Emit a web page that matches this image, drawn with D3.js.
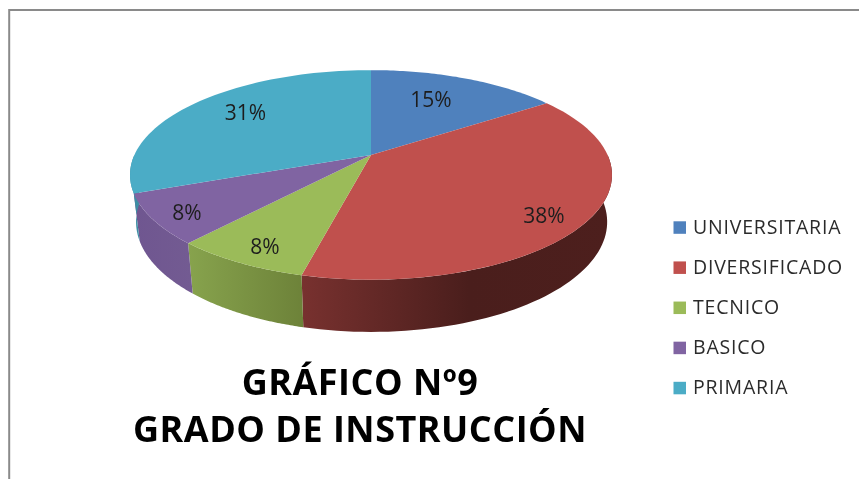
<!DOCTYPE html>
<html><head><meta charset="utf-8">
<style>html,body{margin:0;padding:0;background:#fff}svg{display:block}</style>
<script src="https://cdn.jsdelivr.net/npm/d3@7"></script></head>
<body><svg id="c" width="859" height="479"></svg>
<script>
const categories = ["UNIVERSITARIA","DIVERSIFICADO","TECNICO","BASICO","PRIMARIA"];
const values = [2,5,1,1,4];
const percentLabels = ["15%","38%","8%","8%","31%"];
const topColors = ["#4f81bd","#c0504d","#9bbb59","#8064a2","#4bacc6"];
const wallColors = [
  [[0,"#3c618f"],[1,"#3c618f"]],
  [[0,"#78312f"],[0.54,"#4a1e1c"],[1,"#4d1f1d"]],
  [[0,"#87a34d"],[1,"#6d8239"]],
  [[0,"#6f5690"],[1,"#735b92"]],
  [[0,"#3d8ea4"],[1,"#3d8ea4"]]
];
const titleLines = ["GRÁFICO Nº9","GRADO DE INSTRUCCIÓN"];
const titleBaselines = [395, 442];
const labelPositions = [[431,99],[544,215],[265,246],[187,212.5],[245.5,112.5]];

const svg = d3.select("#c");
const cx = 371, cy = 155, A = 236.6, B = 101, p = 0.19;
// perspective projection of the unit disc
const proj = t => {
  const u = Math.sin(t), v = -Math.cos(t), w = 1 - p * v;
  return [cx + A * u / w, cy + B * v / w];
};
const low = ([x, y]) => [cx + (x - cx) * (x > cx ? 0.98 : 0.975), y + 46 + (y - cy) * 0.05];
const line = d3.line();
const pie = d3.pie().sort(null)(values);
const sample = (a, b, n = 60) => d3.range(0, n + 1).map(i => a + (b - a) * i / n);

const defs = svg.append("defs");
defs.append("filter").attr("id", "soft").attr("x", "-5%").attr("y", "-5%").attr("width", "110%").attr("height", "110%")
  .append("feGaussianBlur").attr("stdDeviation", 0.35);

// frame
svg.append("path").attr("d", "M9.2 479V10H859").attr("fill", "none").attr("stroke", "#8a8a8a").attr("stroke-width", 2);

// side wall: one path of same-winding quads, so the silhouette is the sweep of the rim
const front0 = Math.PI / 2, front1 = Math.PI * 1.5;
pie.forEach((d, i) => {
  const a = Math.max(d.startAngle, front0), b = Math.min(d.endAngle, front1);
  if (a >= b) return;
  const top = sample(a, b).map(proj);
  const bot = top.map(low);
  const xs = top.concat(bot).map(q => q[0]);
  const g = defs.append("linearGradient").attr("id", "w" + i).attr("gradientUnits", "userSpaceOnUse")
    .attr("x1", d3.min(xs)).attr("x2", d3.max(xs)).attr("y1", 0).attr("y2", 0);
  wallColors[i].forEach(s => g.append("stop").attr("offset", s[0]).attr("stop-color", s[1]));
  const quads = d3.range(top.length - 1)
    .map(k => line([top[k], top[k + 1], bot[k + 1], bot[k]]) + "Z").join("");
  svg.append("path").attr("d", quads).attr("fill", `url(#w${i})`).attr("fill-rule", "nonzero");
});

// top faces
pie.forEach((d, i) => {
  const pts = [[cx, cy]].concat(sample(d.startAngle, d.endAngle).map(proj));
  svg.append("path").attr("d", line(pts) + "Z").attr("fill", topColors[i]);
});

const textLayer = svg.append("g").attr("filter", "url(#soft)");

// percentage labels
percentLabels.forEach((t, i) => {
  textLayer.append("text").attr("x", labelPositions[i][0]).attr("y", labelPositions[i][1]).attr("dy", "0.36em")
    .attr("text-anchor", "middle").attr("font-family", "Open Sans").attr("font-size", 21).attr("fill", "#1f1f1f")
    .text(t);
});

// legend
const yL = d3.scalePoint().domain(categories).range([227.5, 388]);
categories.forEach((c, i) => {
  svg.append("rect").attr("x", 673.5).attr("y", yL(c) - 6.2).attr("width", 12.5).attr("height", 12.5).attr("fill", topColors[i]);
  textLayer.append("text").attr("x", 693).attr("y", yL(c) - 0.6).attr("dy", "0.35em")
    .attr("font-family", "Open Sans").attr("font-size", 19.5).attr("letter-spacing", 0.8).attr("fill", "#2b2b2b")
    .text(c);
});

// title
titleLines.forEach((t, i) => {
  textLayer.append("text").attr("x", 360).attr("y", titleBaselines[i]).attr("text-anchor", "middle")
    .attr("font-family", "Open Sans").attr("font-weight", 700).attr("font-size", 36).attr("letter-spacing", 0.5)
    .attr("fill", "#000").text(t);
});
</script></body></html>
